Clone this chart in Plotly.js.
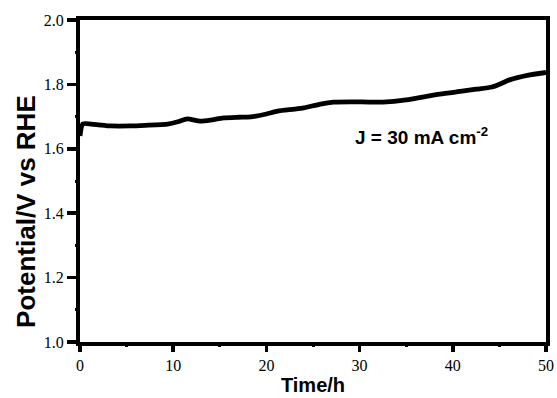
<!DOCTYPE html>
<html>
<head>
<meta charset="utf-8">
<script src="https://cdn.plot.ly/plotly-3.0.1.min.js"></script>
<style>html,body{margin:0;padding:0;background:#fff;}#chart{width:557px;height:398px;}</style>
</head>
<body>
<div id="chart"></div>
<script>
const timeH = [0, 0.3, 1.5, 3.3, 5.4, 7, 9.4, 10.5, 11.5, 12.9, 14, 15.4, 17, 18.3, 20, 21.2, 23, 24, 25.8, 27.2, 29, 31, 32.5, 35, 38.6, 41, 42.5, 44.2, 45.2, 46.1, 48, 50];
const potential = [1.64, 1.677, 1.676, 1.671, 1.671, 1.673, 1.677, 1.684, 1.693, 1.686, 1.689, 1.696, 1.698, 1.699, 1.708, 1.717, 1.723, 1.727, 1.739, 1.745, 1.746, 1.745, 1.745, 1.752, 1.770, 1.779, 1.785, 1.792, 1.803, 1.814, 1.828, 1.837];
const xTicks = [0, 10, 20, 30, 40, 50];
const xTickText = ['0', '10', '20', '30', '40', '50'];
const xMinorTicks = [5, 15, 25, 35, 45];
const yTicks = [1.0, 1.2, 1.4, 1.6, 1.8, 2.0];
const yTickText = ['1.0', '1.2', '1.4', '1.6', '1.8', '2.0'];
const yMinorTicks = [1.1, 1.3, 1.5, 1.7, 1.9];
const xTitle = 'Time/h';
const yTitle = 'Potential/V vs RHE';
const annotationText = 'J = 30 mA cm<sup>-2</sup>';

const trace = {
  x: timeH, y: potential, type: 'scatter', mode: 'lines',
  line: {color: '#000', width: 4.8, shape: 'spline', smoothing: 0.6},
  hoverinfo: 'skip'
};
// invisible copy on overlay axes that carry the minor ticks
const minorHolder = {
  x: timeH, y: potential, xaxis: 'x2', yaxis: 'y2', type: 'scatter', mode: 'lines',
  opacity: 0, line: {width: 0}, hoverinfo: 'skip', showlegend: false
};
const sansBold = 'Liberation Sans';
const tickFont = {family: 'Liberation Serif', size: 16, color: '#000'};
const layout = {
  width: 557, height: 398,
  margin: {l: 80, r: 11, t: 20, b: 56},
  paper_bgcolor: '#fff', plot_bgcolor: '#fff',
  showlegend: false,
  xaxis: {
    range: [0, 50], tickmode: 'array', tickvals: xTicks, ticktext: xTickText,
    showgrid: false, zeroline: false,
    showline: true, linecolor: '#000', linewidth: 4, mirror: true,
    ticks: 'outside', ticklen: 6, tickwidth: 3.5, tickcolor: '#000',
    tickfont: tickFont,
    title: {text: '<b>' + xTitle + '</b>', font: {family: sansBold, size: 20, color: '#000'}, standoff: 6}
  },
  yaxis: {
    range: [1.0, 2.0], tickmode: 'array', tickvals: yTicks, ticktext: yTickText,
    showgrid: false, zeroline: false,
    showline: true, linecolor: '#000', linewidth: 4, mirror: true,
    ticks: 'outside', ticklen: 9, tickwidth: 3.5, tickcolor: '#000',
    tickfont: tickFont
  },
  xaxis2: {
    overlaying: 'x', side: 'bottom', anchor: 'y2',
    range: [0, 50], tickmode: 'array', tickvals: xMinorTicks,
    showticklabels: false, showgrid: false, zeroline: false, showline: false,
    ticks: 'outside', ticklen: 4, tickwidth: 3, tickcolor: '#000'
  },
  yaxis2: {
    overlaying: 'y', side: 'left', anchor: 'x2',
    range: [1.0, 2.0], tickmode: 'array', tickvals: yMinorTicks,
    showticklabels: false, showgrid: false, zeroline: false, showline: false,
    ticks: 'outside', ticklen: 4, tickwidth: 3, tickcolor: '#000'
  },
  annotations: [
    {
      x: -0.116, y: 0.407, xref: 'paper', yref: 'paper', showarrow: false,
      xanchor: 'center', yanchor: 'middle', textangle: -90,
      text: '<b>' + yTitle + '</b>',
      font: {family: sansBold, size: 26, color: '#000'}
    },
    {
      x: 0.732, y: 0.64, xref: 'paper', yref: 'paper', showarrow: false,
      xanchor: 'center', yanchor: 'middle',
      text: '<b>' + annotationText + '</b>',
      font: {family: sansBold, size: 19, color: '#000'}
    }
  ]
};
Plotly.newPlot('chart', [trace, minorHolder], layout, {displayModeBar: false, staticPlot: true});
</script>
</body>
</html>
